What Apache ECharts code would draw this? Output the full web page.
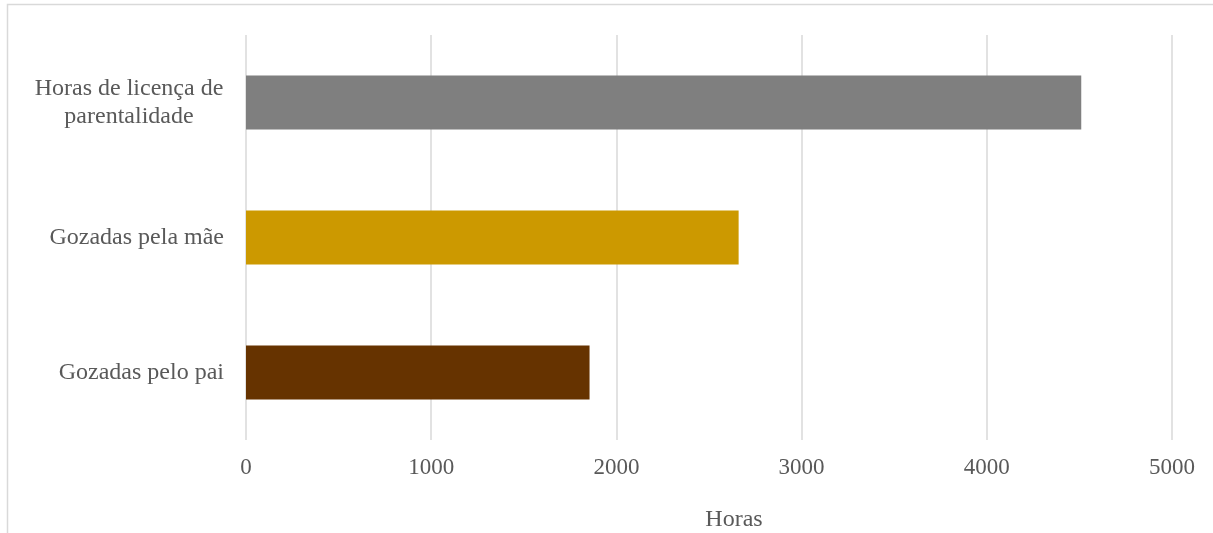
<!DOCTYPE html>
<html>
<head>
<meta charset="utf-8">
<script src="https://cdn.jsdelivr.net/npm/echarts@6/dist/echarts.min.js"></script>
<style>
  html, body { margin: 0; padding: 0; background: #ffffff; }
  #chart { width: 1213px; height: 533px; }
</style>
</head>
<body>
<div id="chart"></div>
<script>
// Categories, top to bottom
const categories = ['Horas de licença de\nparentalidade', 'Gozadas pela mãe', 'Gozadas pelo pai'];
// Hours for each category
const hours = [4510, 2660, 1855];
// Bar fill per category
const barColors = ['#7f7f7f', '#cc9900', '#663300'];
// Horizontal axis ticks
const axisMin = 0;
const axisMax = 5000;
const axisStep = 1000;
const axisTitle = 'Horas';

const textColor = '#595959';
const fontFamily = '"Liberation Serif", "Times New Roman", serif';

const chart = echarts.init(document.getElementById('chart'));
chart.setOption({
  animation: false,
  backgroundColor: '#ffffff',
  textStyle: { fontFamily: fontFamily },
  graphic: [{
    type: 'rect',
    shape: { x: 7.5, y: 4.5, width: 1400, height: 700 },
    style: { fill: 'none', stroke: '#d9d9d9', lineWidth: 1.5 },
    silent: true
  }],
  grid: { left: 246, right: 41, top: 35, bottom: 93, containLabel: false, outerBoundsMode: 'none' },
  xAxis: {
    type: 'value',
    min: axisMin,
    max: axisMax,
    interval: axisStep,
    name: axisTitle,
    nameLocation: 'middle',
    nameGap: 68,
    nameTextStyle: { color: textColor, fontSize: 24, fontFamily: fontFamily, padding: [0, 0, 0, 50] },
    axisLine: { show: false },
    axisTick: { show: false },
    axisLabel: {
      color: textColor, fontSize: 23, fontFamily: fontFamily, margin: 16,
      formatter: function (v) { return String(v); }
    },
    splitLine: { show: true, lineStyle: { color: '#d9d9d9', width: 1.5 } }
  },
  yAxis: {
    type: 'category',
    data: categories,
    inverse: true,
    axisLine: { show: false },
    axisTick: { show: false },
    axisLabel: {
      color: textColor,
      fontSize: 24,
      fontFamily: fontFamily,
      margin: 22,
      lineHeight: 28,
      formatter: function (v) {
        if (v.indexOf('\n') >= 0) {
          return v.split('\n').map(function (s) { return '{c|' + s + '}'; }).join('\n');
        }
        return v;
      },
      rich: {
        c: { width: 190, align: 'center', color: textColor, fontSize: 24, fontFamily: fontFamily, lineHeight: 28 }
      }
    }
  },
  series: [{
    type: 'bar',
    data: hours.map(function (v, i) {
      return { value: v, itemStyle: { color: barColors[i] } };
    }),
    barCategoryGap: '60%'
  }]
});
</script>
</body>
</html>
